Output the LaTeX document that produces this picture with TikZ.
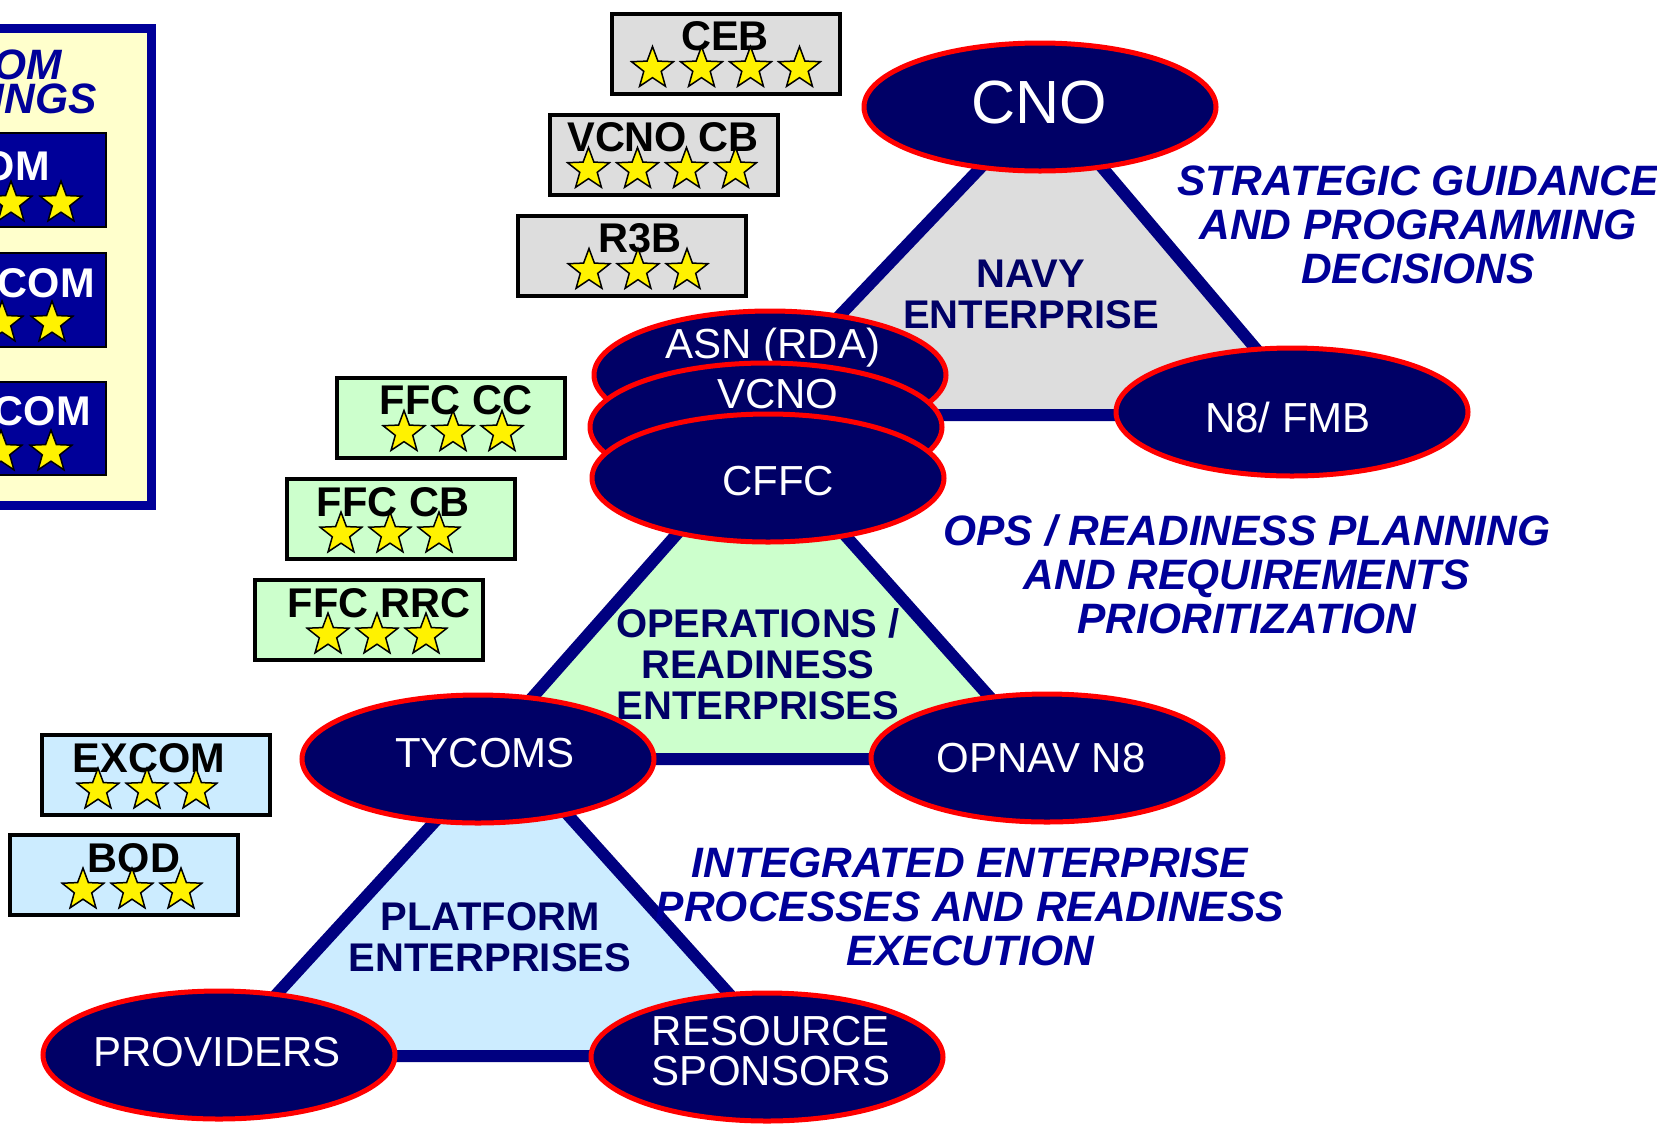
\documentclass[tikz,border=0pt]{standalone}
\usepackage{fontspec}
\setmainfont{Liberation Sans}
\usetikzlibrary{shapes.geometric}

\definecolor{marino}{HTML}{000066}
\definecolor{azul}{HTML}{000099}
\definecolor{borde}{HTML}{000080}
\definecolor{gris}{HTML}{DDDDDD}
\definecolor{verde}{HTML}{CCFFCC}
\definecolor{celeste}{HTML}{CCECFF}
\definecolor{crema}{HTML}{FFFFCC}

\begin{document}
\begin{tikzpicture}[x=1pt, y=-1pt,
	elipse/.style={ellipse, draw=red, line width=5pt, fill=marino, minimum width=352pt, minimum height=128pt, inner sep=0pt},
	txtel/.style={anchor=base, inner sep=0pt, text=white, align=center, font=\fontsize{42}{40}\selectfont},
	caja/.style={draw=black, line width=4pt, minimum width=228pt, minimum height=80pt, inner sep=0pt},
	rotulo/.style={anchor=base, inner sep=0pt, font=\fontsize{41.5}{40}\selectfont\bfseries},
	estrella/.style={star, star points=5, star point ratio=2.4, minimum size=44pt, inner sep=0pt, fill=yellow, draw=black, line width=1.5pt},
	tri/.style={draw=borde, line width=12pt, line join=round},
	txttri/.style={text=marino, align=center, inner sep=0pt, font=\fontsize{40}{41}\selectfont\bfseries},
	txtazul/.style={text=azul, align=center, inner sep=0pt, font=\fontsize{42.5}{44}\selectfont\bfseries\itshape}]

\useasboundingbox (0,0) rectangle (1657,1128);

% Recuadro izquierdo
\draw[draw=azul, fill=crema, line width=9pt] (-300,28.5) rectangle (151.5,505);
\node[txtazul, anchor=base east] (leg1) at (62,79) {OM};
\node[txtazul, anchor=base east] (leg2) at (97,113) {INGS};
\foreach \n/\ya/\yb/\lab/\xt/\yt/\xs in {a/133/227/OM/50/180/11, b/253/347/ICOM/95/297/2, c/382/475/COM/91/425/1} {
	\draw[fill=azul, draw=black, line width=1.5pt] (-200,\ya) rectangle (106,\yb);
	\node[rotulo, anchor=base east, text=white] (leg-\n) at (\xt,\yt) {\lab};
	\foreach \i in {0,1}
		\node[estrella] (leg-\n-s\i) at (\xs+\i*50,\ya+70) {};
}

% Cajas con estrellas
\foreach \n/\cx/\cy/\lab/\tx/\sx/\k/\c in {ceb/726/53.5/CEB/725/726/4/gris,
		vcnocb/663.5/154.5/VCNO CB/663/662/4/gris,
		r3b/632/255.5/R3B/640/638/3/gris,
		ffccc/451/417.5/FFC CC/456/453/3/verde,
		ffccb/401/519/FFC CB/393/390/3/verde,
		ffcrrc/369/620/FFC RRC/379/377/3/verde,
		excom/156/775/EXCOM/149/147/3/celeste,
		bod/124/875/BOD/134/132/3/celeste} {
	\node[caja, fill=\c] (\n) at (\cx,\cy) {};
	\node[rotulo] (\n-t) at (\tx,\cy-3) {\lab};
	\foreach \i in {1,...,\k}
		\node[estrella] (\n-s\i) at ({\sx+(\i-(\k+1)/2)*49},\cy+15) {};
}

% Triangulos
\coordinate (t1a) at (1045,100);
\coordinate (t1b) at (745,415);
\coordinate (t1c) at (1312,415);
\coordinate (t2a) at (760,440);
\coordinate (t2b) at (478,759);
\coordinate (t2c) at (1045,759);
\coordinate (t3a) at (505,745);
\coordinate (t3b) at (220,1056);
\coordinate (t3c) at (785,1056);
\draw[tri, fill=gris] (t1a) -- (t1b) -- (t1c) -- cycle;
\draw[tri, fill=verde] (t2a) -- (t2b) -- (t2c) -- cycle;
\draw[tri, fill=celeste] (t3a) -- (t3b) -- (t3c) -- cycle;

\node[txttri] (navy) at (1031,294.5) {NAVY\\ENTERPRISE};
\node[txttri] (oper) at (758,664) {OPERATIONS /\\READINESS\\ENTERPRISES};
\node[txttri] (plat) at (490,937.5) {PLATFORM\\ENTERPRISES};

% Textos en cursiva
\node[txtazul] (estrat) at (1418,225) {STRATEGIC GUIDANCE\\AND PROGRAMMING\\DECISIONS};
\node[txtazul] (ops) at (1247,574) {OPS / READINESS PLANNING\\AND REQUIREMENTS\\PRIORITIZATION};
\node[txtazul] (integ) at (970,906.5) {INTEGRATED ENTERPRISE\\PROCESSES AND READINESS\\EXECUTION};

% Elipses
\node[elipse] (cno) at (1040,107) {};
\node[txtel, font=\fontsize{61}{61}\selectfont] (cno-t) at (1039,123) {CNO};
\node[elipse] (n8) at (1292,412) {};
\node[txtel] (n8-t) at (1288,432) {N8/ FMB};
\node[elipse] (asn) at (770,375) {};
\node[txtel] (asn-t) at (773,358) {ASN (RDA)};
\node[elipse] (vcno) at (766,427) {};
\node[txtel] (vcno-t) at (778,408) {VCNO};
\node[elipse] (cffc) at (768,478) {};
\node[txtel] (cffc-t) at (778,495) {CFFC};
\node[elipse] (tycoms) at (478,759) {};
\node[txtel] (tycoms-t) at (485,767) {TYCOMS};
\node[elipse] (opnav) at (1047,758) {};
\node[txtel] (opnav-t) at (1041,772) {OPNAV N8};
\node[elipse] (prov) at (219,1055) {};
\node[txtel] (prov-t) at (217,1066) {PROVIDERS};
\node[elipse] (rs) at (767,1057) {};
\node[txtel, anchor=center] (rs-t) at (771,1051) {RESOURCE\\SPONSORS};

\end{tikzpicture}
\end{document}
